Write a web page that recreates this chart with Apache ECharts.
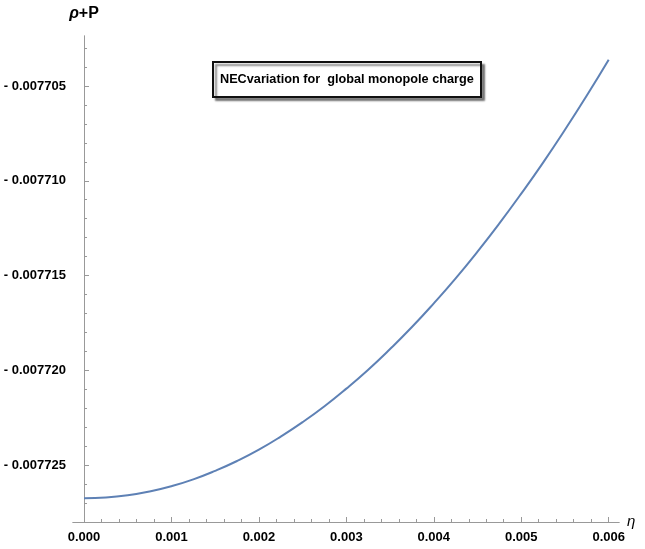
<!DOCTYPE html>
<html>
<head>
<meta charset="utf-8">
<script src="https://cdn.jsdelivr.net/npm/echarts@6/dist/echarts.min.js"></script>
<style>
  html, body { margin: 0; padding: 0; background: #fff; }
  #chart { width: 645px; height: 549px; }
</style>
</head>
<body>
<div id="chart"></div>
<script>
// eta values and rho+P
const etaValues = [
  0, 0.00025, 0.0005, 0.00075, 0.001, 0.00125, 0.0015, 0.00175, 0.002, 0.00225, 0.0025, 0.00275,
  0.003, 0.00325, 0.0035, 0.00375, 0.004, 0.00425, 0.0045, 0.00475, 0.005, 0.00525, 0.0055, 0.00575, 0.006,
]
const necValues = [
  -0.00772676, -0.00772672, -0.00772660, -0.00772640, -0.00772612, -0.00772576, -0.00772531,
  -0.00772479, -0.00772419, -0.00772350, -0.00772274, -0.00772190, -0.00772097, -0.00771997,
  -0.00771888, -0.00771772, -0.00771647, -0.00771515, -0.00771374, -0.00771225, -0.00771068,
  -0.00770904, -0.00770731, -0.00770550, -0.00770361,
]

// tick labels
const xMajorTicks = [0, 0.001, 0.002, 0.003, 0.004, 0.005, 0.006]
const xMinorTicks = [
  0.0002, 0.0004, 0.0006, 0.0008, 0.0012, 0.0014, 0.0016, 0.0018,
  0.0022, 0.0024, 0.0026, 0.0028, 0.0032, 0.0034, 0.0036, 0.0038,
  0.0042, 0.0044, 0.0046, 0.0048, 0.0052, 0.0054, 0.0056, 0.0058,
]
const yMajorTicks = [-0.007725, -0.00772, -0.007715, -0.00771, -0.007705]
const yMinorTicks = [
  -0.007728, -0.007727, -0.007726, -0.007724, -0.007723, -0.007722, -0.007721,
  -0.007719, -0.007718, -0.007717, -0.007716, -0.007714, -0.007713, -0.007712,
  -0.007711, -0.007709, -0.007708, -0.007707, -0.007706, -0.007704, -0.007703,
]

const axisColor = '#999999'
const labelFont = "'Liberation Sans', Arial, sans-serif"

const chart = echarts.init(document.getElementById('chart'))

const xBase = {
  type: 'value',
  min: -0.000126,
  max: 0.006118,
  position: 'bottom',
  splitLine: { show: false },
  axisLine: { onZero: false, lineStyle: { color: axisColor, width: 1 } },
}
const yBase = {
  type: 'value',
  min: -0.00772801,
  max: -0.00770236,
  position: 'left',
  splitLine: { show: false },
  axisLine: { onZero: true, lineStyle: { color: axisColor, width: 1 } },
}

const option = {
  animation: false,
  backgroundColor: '#ffffff',
  title: {
    text: 'NECvariation for  global monopole charge',
    left: 213,
    top: 62,
    padding: [11, 7],
    borderColor: '#111111',
    borderWidth: 2,
    backgroundColor: '#ffffff',
    shadowColor: 'rgba(0,0,0,0.45)',
    shadowBlur: 2,
    shadowOffsetX: 3,
    shadowOffsetY: 3,
    textStyle: {
      fontFamily: labelFont,
      fontWeight: 'bold',
      fontSize: 12.7,
      color: '#000000',
    },
  },
  grid: {
    left: 73,
    right: 26,
    top: 36,
    bottom: 27,
    outerBoundsMode: 'none',
  },
  xAxis: [
    {
      ...xBase,
      name: 'η',
      nameLocation: 'end',
      nameGap: 8,
      nameTextStyle: {
        fontFamily: 'Liberation Sans',
        fontStyle: 'italic',
        fontSize: 15,
        color: '#000000',
        verticalAlign: 'middle',
        padding: [0, 0, 0, 0],
      },
      axisTick: { inside: true, length: 5, customValues: xMajorTicks, lineStyle: { color: axisColor } },
      axisLabel: {
        customValues: xMajorTicks,
        margin: 9,
        fontFamily: labelFont,
        fontWeight: 'bold',
        fontSize: 13,
        color: '#000000',
        formatter: (v) => v.toFixed(3),
      },
    },
    {
      ...xBase,
      axisTick: { inside: true, length: 3, customValues: xMinorTicks, lineStyle: { color: axisColor } },
      axisLabel: { show: false },
    },
  ],
  yAxis: [
    {
      ...yBase,
      name: '{i|ρ}+P',
      nameLocation: 'end',
      nameGap: 14,
      nameTextStyle: {
        fontFamily: 'Liberation Sans',
        fontWeight: 'bold',
        fontSize: 16,
        color: '#000000',
        rich: {
          i: { fontFamily: 'Liberation Sans', fontStyle: 'italic', fontWeight: 'bold', fontSize: 16, color: '#000000' },
        },
      },
      axisTick: { inside: true, length: 5, customValues: yMajorTicks, lineStyle: { color: axisColor } },
      axisLabel: {
        customValues: yMajorTicks,
        margin: 7,
        fontFamily: labelFont,
        fontWeight: 'bold',
        fontSize: 13,
        color: '#000000',
        formatter: (v) => '- ' + Math.abs(v).toFixed(6),
      },
    },
    {
      ...yBase,
      axisTick: { inside: true, length: 3, customValues: yMinorTicks, lineStyle: { color: axisColor } },
      axisLabel: { show: false },
    },
  ],
  series: [
    {
      type: 'line',
      xAxisIndex: 0,
      yAxisIndex: 0,
      data: etaValues.map((x, i) => [x, necValues[i]]),
      smooth: true,
      showSymbol: false,
      lineStyle: { color: '#5e81b5', width: 2 },
      itemStyle: { color: '#5e81b5' },
    },
  ],
}

chart.setOption(option)
</script>
</body>
</html>
